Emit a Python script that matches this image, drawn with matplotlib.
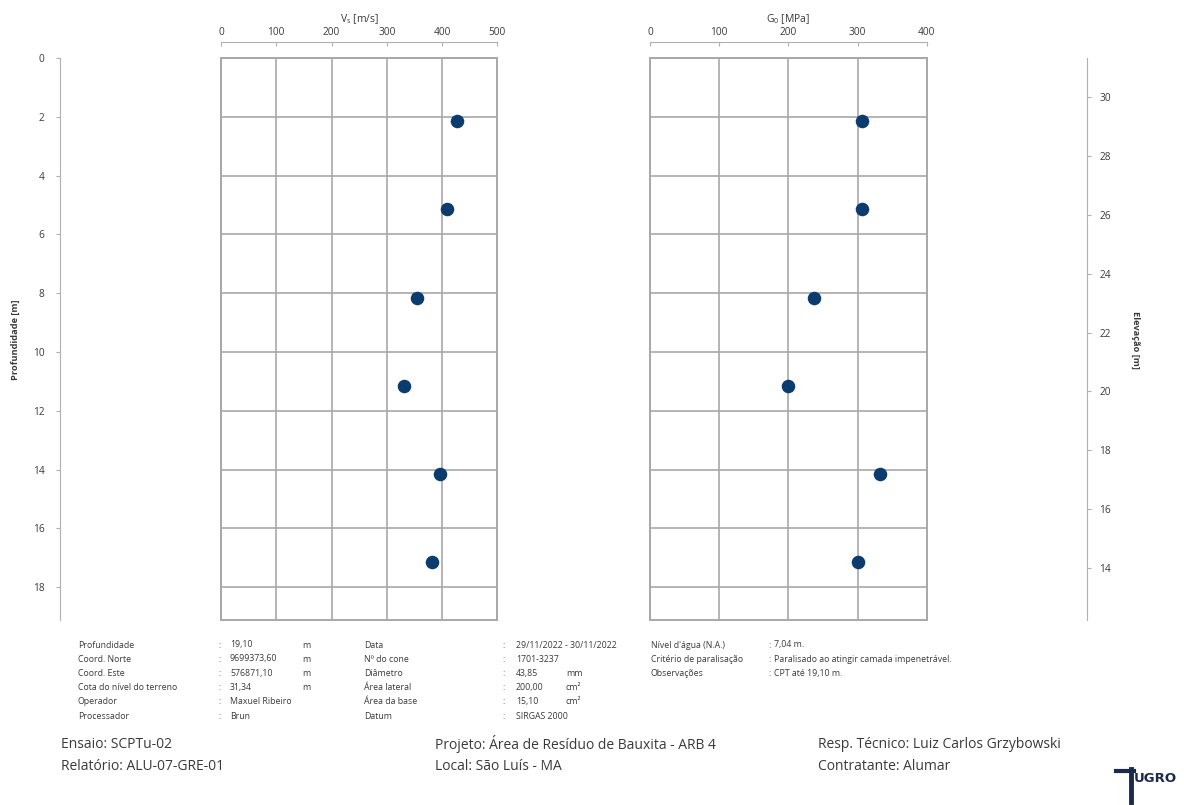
import matplotlib
matplotlib.use("Agg")
import matplotlib.pyplot as plt
from matplotlib.lines import Line2D

plt.rcParams['font.family'] = ['Open Sans', 'DejaVu Sans']
plt.rcParams['mathtext.fontset'] = 'custom'
plt.rcParams['mathtext.rm'] = 'Open Sans'
plt.rcParams['mathtext.it'] = 'Open Sans'
plt.rcParams['axes.unicode_minus'] = False

# ensaio sismico SCPTu-02
depth = [2.15, 5.15, 8.15, 11.15, 14.15, 17.15]
vs = [427, 409, 354, 331, 397, 382]
g0 = [306, 306, 237, 199, 333, 300]

depth_max = 19.10
cota_terreno = 31.34

vs_ticks = [0, 100, 200, 300, 400, 500]
g0_ticks = [0, 100, 200, 300, 400]
depth_ticks = list(range(0, 19, 2))
elev_ticks = list(range(14, 31, 2))

info_col1 = ["Profundidade", "Coord. Norte", "Coord. Este", "Cota do nível do terreno",
             "Operador", "Processador"]
info_val1 = ["19,10", "9699373,60", "576871,10", "31,34", "Maxuel Ribeiro", "Brun"]
info_unit1 = ["m", "m", "m", "m", "", ""]
info_col2 = ["Data", "Nº do cone", "Diâmetro", "Área lateral", "Área da base", "Datum"]
info_val2 = ["29/11/2022 - 30/11/2022", "1701-3237", "43,85", "200,00", "15,10", "SIRGAS 2000"]
info_unit2 = ["", "", "mm", "cm²", "cm²", ""]
info_col3 = ["Nível d'água (N.A.)", "Critério de paralisação", "Observações"]
info_val3 = ["7,04 m.", "Paralisado ao atingir camada impenetrável.", "CPT até 19,10 m."]

W, H = 1184, 805
GRID = '#a8a8a8'
TXT = '#3a3a3a'
NAVY = '#0c3b6d'


def fx(x):
    return x / W


def fy(y):
    return 1 - y / H


fig = plt.figure(figsize=(W / 100, H / 100), dpi=100)
fig.patch.set_facecolor('white')

top, bot = 58, 619.6
ax_b = fy(bot)
ax_h = (bot - top) / H


def panel(x0, x1, values, ticks, label):
    ax = fig.add_axes([fx(x0), ax_b, (x1 - x0) / W, ax_h])
    ax.scatter(values, depth, s=95, color=NAVY, zorder=3, linewidths=0)
    ax.set_xlim(ticks[0], ticks[-1])
    ax.set_ylim(depth_max, 0)
    ax.set_xticks(ticks)
    ax.set_yticks(depth_ticks)
    ax.grid(True, color=GRID, lw=1.2)
    ax.tick_params(length=0, labelbottom=False, labelleft=False)
    for s in ax.spines.values():
        s.set_color(GRID)
        s.set_linewidth(1.4)

    # escala superior
    sc = fig.add_axes([fx(x0), fy(42), (x1 - x0) / W, 0.0001])
    sc.set_xlim(ticks[0], ticks[-1])
    sc.set_xticks(ticks)
    sc.set_yticks([])
    for k in ['left', 'right', 'bottom']:
        sc.spines[k].set_visible(False)
    sc.spines['top'].set_color('#b0b0b0')
    sc.xaxis.tick_top()
    sc.tick_params(direction='in', length=3, color='#b0b0b0', labelsize=7.3,
                   labelcolor=TXT, pad=3)
    sc.xaxis.set_label_position('top')
    sc.set_xlabel(label, fontsize=7.5, color=TXT, labelpad=3)
    return ax


panel(221, 497.3, vs, vs_ticks, r'V$_{\mathregular{s}}$ [m/s]')
panel(650, 926.7, g0, g0_ticks, r'G$_{\mathregular{0}}$ [MPa]')

# eixo de profundidade
ad = fig.add_axes([fx(60), ax_b, 0.0001, ax_h])
ad.set_ylim(depth_max, 0)
ad.set_yticks(depth_ticks)
ad.set_xticks([])
for k in ['top', 'right', 'bottom']:
    ad.spines[k].set_visible(False)
ad.spines['left'].set_color('#b0b0b0')
ad.tick_params(axis='y', length=3, color='#b0b0b0', labelsize=7.3, labelcolor=TXT, pad=8)
fig.text(fx(15), fy(340), 'Profundidade [m]', rotation=90, ha='center', va='center',
         fontsize=6.7, fontweight='bold', color=TXT)

# eixo de elevacao
ae = fig.add_axes([fx(1087) - 0.0001, ax_b, 0.0001, ax_h])
ae.set_ylim(cota_terreno - depth_max, cota_terreno)
ae.set_yticks(elev_ticks)
ae.set_xticks([])
for k in ['top', 'left', 'bottom']:
    ae.spines[k].set_visible(False)
ae.spines['right'].set_color('#b0b0b0')
ae.yaxis.tick_right()
ae.tick_params(axis='y', length=3, color='#b0b0b0', labelsize=7.3, labelcolor=TXT, pad=6)
fig.text(fx(1136), fy(340), 'Elevação [m]', rotation=270, ha='center', va='center',
         fontsize=6.7, fontweight='bold', color=TXT)

# quadro de informacoes
fs = 6.3
row_y = [645, 659, 673, 687, 701, 716]
for i, y in enumerate(row_y):
    fig.text(fx(78), fy(y), info_col1[i], fontsize=fs, color=TXT, va='center')
    fig.text(fx(218), fy(y), ':', fontsize=fs, color=TXT, va='center')
    fig.text(fx(230), fy(y), info_val1[i], fontsize=fs, color=TXT, va='center')
    fig.text(fx(302), fy(y), info_unit1[i], fontsize=fs, color=TXT, va='center')
    fig.text(fx(364), fy(y), info_col2[i], fontsize=fs, color=TXT, va='center')
    fig.text(fx(502), fy(y), ':', fontsize=fs, color=TXT, va='center')
    fig.text(fx(516), fy(y), info_val2[i], fontsize=fs, color=TXT, va='center')
    fig.text(fx(566), fy(y), info_unit2[i], fontsize=fs, color=TXT, va='center')
for i, y in enumerate(row_y[:3]):
    fig.text(fx(651), fy(y), info_col3[i], fontsize=fs, color=TXT, va='center')
    fig.text(fx(768), fy(y), ':', fontsize=fs, color=TXT, va='center')
    fig.text(fx(774), fy(y), info_val3[i], fontsize=fs, color=TXT, va='center')

# rodape
fs2 = 10
fig.text(fx(61), fy(744), 'Ensaio: SCPTu-02', fontsize=fs2, color=TXT, va='center')
fig.text(fx(61), fy(766), 'Relatório: ALU-07-GRE-01', fontsize=fs2, color=TXT, va='center')
fig.text(fx(435), fy(744), 'Projeto: Área de Resíduo de Bauxita - ARB 4', fontsize=fs2,
         color=TXT, va='center')
fig.text(fx(435), fy(766), 'Local: São Luís - MA', fontsize=fs2, color=TXT, va='center')
fig.text(fx(818), fy(744), 'Resp. Técnico: Luiz Carlos Grzybowski', fontsize=fs2,
         color=TXT, va='center')
fig.text(fx(818), fy(766), 'Contratante: Alumar', fontsize=fs2, color=TXT, va='center')

# logotipo
LOGO = '#1b2a4a'
fig.add_artist(Line2D([fx(1116), fx(1134)], [fy(771), fy(771)], color=LOGO, lw=3,
                      transform=fig.transFigure))
fig.add_artist(Line2D([fx(1131), fx(1131)], [fy(769), fy(802)], color=LOGO, lw=3.5,
                      transform=fig.transFigure))
fig.text(fx(1134), fy(778), 'UGRO', fontsize=9.5, fontweight='black', color=LOGO,
         va='center', family=['DejaVu Sans'])

fig.savefig('out.png', dpi=100, facecolor='white')
